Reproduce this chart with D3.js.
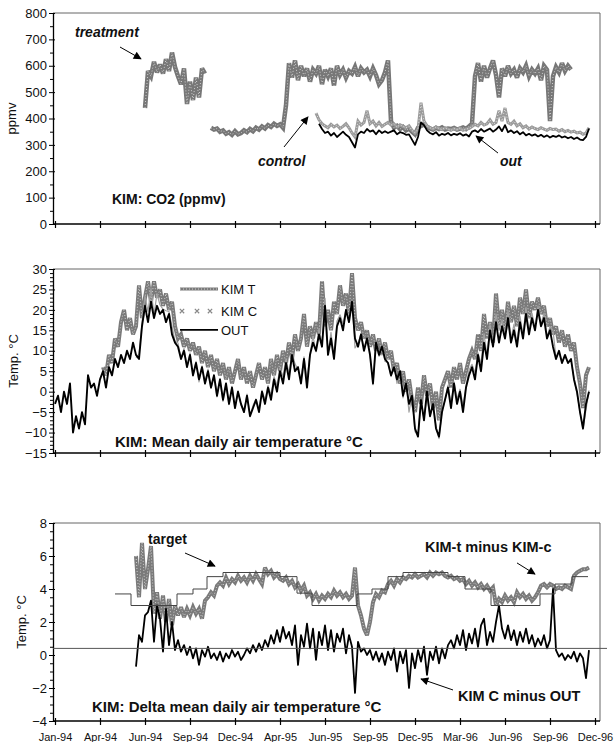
<!DOCTYPE html>
<html>
<head>
<meta charset="utf-8">
<script src="https://cdn.jsdelivr.net/npm/d3@7"></script>
<style>
  body { margin: 0; background: #fff; }
  svg { font-family: "Liberation Sans", Arial, sans-serif; }
</style>
</head>
<body>
<svg id="chart" width="615" height="742"></svg>
<script>
// ---- data (day index from start of axis, one value every 6 days) ----
const tickDays = [0, 90, 180, 270, 360, 450, 540, 630, 720, 810, 900, 990, 1080];
const tickLabels = ["Jan-94", "Apr-94", "Jun-94", "Sep-94", "Dec-94", "Apr-95", "Jun-95",
                    "Sep-95", "Dec-95", "Mar-96", "Jun-96", "Sep-96", "Dec-96"];
const STEP = 6;

// CO2 (ppmv)
const co2TreatStart = 180;
const co2Treat = [
  440,580,560,615,575,605,570,625,580,650,595,560,530,590,455,540,470,555,480,590,570,
  null,
  365,358,362,350,355,342,348,338,352,340,345,355,348,360,352,365,358,370,362,375,368,380,372,378,365,
  450,610,555,620,545,600,560,590,540,585,570,600,530,585,560,590,525,600,565,585,555,580,570,595,560,590,575,585,560,590,565,530,545,575,620,
  390,365,372,360,368,355,362,350,340,365,372,378,368,362,358,365,360,366,358,362,360,364,358,362,366,360,370,
  380,560,610,540,600,555,590,620,565,480,590,560,600,570,585,555,590,575,600,560,585,570,590,545,600,585,390,560,595,575,610,580,600,585
];
const co2ControlStart = 522;
const co2Control = [
  420,395,380,372,365,378,368,375,362,370,380,365,345,330,390,375,385,430,380,390,
  372,385,370,378,385,375,380,368,376,370,365,372,355,345,360,460,390,372,365,360,
  368,362,358,365,360,355,362,358,364,355,360,362,370,378,372,385,375,380,395,378,
  385,430,390,440,385,378,390,372,380,365,372,360,368,362,358,365,360,355,362,358,
  360,352,358,350,355,348,352,345,348,340,345,365
];
const co2OutStart = 528;
const co2Out = [
  380,360,345,350,335,345,330,340,350,338,330,310,290,340,350,345,360,350,355,340,
  355,345,352,345,350,355,340,348,345,338,340,320,300,330,385,375,355,345,340,348,
  335,342,338,345,336,342,338,344,335,340,332,350,355,348,360,350,356,362,350,358,
  370,352,375,348,355,345,352,340,348,336,342,335,340,332,338,330,336,328,334,330,
  336,328,332,325,330,322,328,320,318,330,362
];

// Mean daily air temperature (°C)
const tempOutStart = 0;
const tempOut = [
  -3,-1,-5,0,-3,2,-10,-6,-9,-5,-8,4,1,2,-1,3,5,1,6,4,8,6,9,7,10,8,12,9,8,16,
  21,17,22,18,21,19,20,17,19,14,12,11,8,10,6,9,4,7,3,6,2,5,1,4,-1,3,-2,2,-3,1,
  -4,0,-3,-5,-1,-6,-4,-2,-5,0,-3,1,-2,3,0,5,2,7,3,9,5,6,2,8,1,9,12,10,14,11,
  21,9,13,8,16,18,15,20,17,22,13,11,14,10,13,9,2,12,9,11,8,7,4,6,3,5,-1,2,-3,-1,
  -9,-11,-2,-7,0,-6,-3,-9,-11,-5,-2,1,-4,2,-3,0,-5,1,4,6,3,9,5,12,8,15,11,17,12,16,
  13,18,12,15,11,17,13,19,14,18,15,20,16,18,13,15,11,8,10,7,9,7,8,3,0,-5,-9,-3,0
];
const tempTStart = 96;
const tempT = [
  6,4,9,7,13,11,17,20,15,18,14,16,26,18,23,27,22,27,23,25,21,24,20,22,16,13,14,11,13,10,
  12,9,11,7,10,6,9,5,8,4,7,3,6,2,5,8,3,6,2,5,1,4,7,3,6,2,8,4,9,5,
  10,7,12,8,14,10,13,19,11,16,13,17,14,27,16,20,15,22,19,26,21,24,19,29,18,15,17,13,15,11,
  14,10,13,9,12,8,10,5,7,2,5,0,3,-2,-5,1,-3,4,-1,2,-4,0,-7,1,3,5,1,6,3,7,
  2,5,8,10,8,14,10,19,13,17,12,24,16,20,15,22,17,21,16,23,19,25,18,22,20,23,19,21,16,18,
  14,16,12,15,11,14,10,12,6,2,-4,4,6
];

// Delta mean daily air temperature (°C)
const deltaStart = 162;
const tMinusC = [
  6.0,3.5,6.8,4.0,5.2,6.6,2.5,3.8,2.2,3.6,2.0,3.4,1.8,3.0,2.4,2.9,2.3,2.8,2.4,2.9,
  2.5,2.8,2.2,3.3,3.5,3.8,3.6,4.2,4.4,4.2,4.7,4.3,4.6,4.4,4.8,4.5,4.7,4.4,4.8,4.5,
  4.9,4.6,4.3,5.3,4.9,5.1,4.7,4.9,4.6,4.5,4.7,4.3,4.5,4.1,4.3,3.9,4.2,3.6,3.8,3.4,
  3.7,3.3,3.6,3.4,3.7,3.5,3.9,3.6,3.8,3.5,3.7,3.4,3.6,5.3,3.0,2.4,1.6,1.2,2.0,3.2,
  3.7,3.5,3.9,3.8,4.3,4.5,4.2,4.6,4.4,4.7,4.6,4.8,4.7,4.9,4.7,4.8,4.9,4.7,5.0,4.8,
  5.0,4.9,5.0,4.8,4.7,4.8,4.6,4.7,4.5,4.6,4.3,4.5,4.2,4.4,4.1,4.3,4.0,4.2,3.9,4.1,
  3.0,3.4,3.2,3.6,3.3,3.5,3.2,3.8,3.5,3.7,3.4,3.6,3.3,3.5,3.8,4.2,4.3,4.1,4.3,4.2,
  4.0,4.1,4.0,4.2,4.1,4.0,4.8,5.0,5.1,5.2,5.2,5.3
];
const cMinusOut = [
  -0.7,1.2,0.8,2.4,2.6,3.3,0.8,3.0,2.2,0.2,2.8,0.6,2.0,0.3,0.9,0.2,0.6,0.0,0.5,-0.2,
  0.4,-0.6,0.3,-0.1,0.5,-0.2,0.1,-0.3,0.2,-0.4,0.1,-0.2,0.3,-0.1,0.2,-0.3,0.0,0.4,0.1,0.6,
  0.2,0.7,0.3,0.9,0.5,1.2,0.7,1.5,0.8,1.7,1.0,1.4,0.6,1.8,-0.6,1.2,0.5,1.9,0.4,1.6,
  -0.3,1.4,0.6,1.8,0.3,1.5,0.2,1.3,0.8,1.6,0.1,1.2,0.5,-2.3,0.8,0.2,0.4,0.0,0.3,-0.3,
  0.2,-0.4,0.1,-0.6,0.2,-0.3,0.4,-1.0,0.2,-0.5,0.3,-2.0,0.1,-0.8,0.3,-0.4,0.5,-1.2,0.2,-0.3,
  0.5,-0.5,0.4,-0.2,0.6,0.9,0.4,1.2,0.6,1.5,0.3,1.3,0.7,1.6,0.5,1.8,2.2,0.6,1.4,0.8,
  2.0,3.0,1.6,1.0,1.8,0.9,1.5,0.6,1.4,0.8,1.6,0.7,1.2,0.5,1.0,0.6,1.2,0.4,0.9,4.0,
  0.3,-0.1,0.1,-0.3,0.0,-0.2,0.2,-0.4,0.1,-0.2,-1.4,0.3
];
// target difference, step changes (day, value)
const targetDays = [120,152,244,276,304,336,450,484,514,604,634,666,696,786,820,872,970,1000,1034,1066];
const targetVals = [3.7,3.0,3.7,4.0,4.75,5.0,4.75,3.75,3.0,3.7,4.0,4.75,5.0,4.75,4.0,3.0,3.7,4.3,4.75,4.75];
const refLine = 0.4;

// ---- helpers ----
const svg = d3.select("#chart");
const x = d3.scaleLinear().domain([0, 1080]).range([55, 595]);
const frameLeft = 53, frameRight = 600;

function series(start, values) {
  return values.map((v, i) => ({ d: start + STEP * i, v: v }));
}

function drawPanel(p) {
  const g = svg.append("g");
  // top and right border
  g.append("path")
    .attr("d", `M${frameLeft},${p.top}H${frameRight}V${p.bottom}`)
    .attr("fill", "none").attr("stroke", "#666").attr("stroke-width", 1);

  // minor y ticks
  const minor = g.append("g").attr("transform", `translate(${frameLeft},0)`)
    .call(d3.axisLeft(p.y).tickValues(p.minor).tickSize(3).tickFormat(""));
  minor.select(".domain").remove();
  minor.selectAll(".tick line").attr("x1", 1);

  // major y ticks
  const major = g.append("g").attr("transform", `translate(${frameLeft},0)`)
    .call(d3.axisLeft(p.y).tickValues(p.major).tickSize(4).tickSizeOuter(0).tickPadding(p.pad));
  major.select(".domain").attr("stroke-width", 1.3);
  major.selectAll(".tick line").attr("x1", 2);
  major.selectAll("text").attr("font-size", p.fs).attr("fill", "#111");

  // bottom axis
  const bottom = g.append("g").attr("transform", `translate(0,${p.bottom})`)
    .call(d3.axisBottom(x).tickValues(tickDays).tickSize(4)
      .tickFormat(p.labels ? (d, i) => tickLabels[i] : ""));
  bottom.select(".domain").remove();
  bottom.selectAll(".tick line").attr("y1", -3).attr("stroke-width", 1.2);
  bottom.selectAll("text").attr("font-size", 11).attr("dy", "1.2em").attr("fill", "#111");
  g.append("line").attr("x1", frameLeft).attr("x2", frameRight)
    .attr("y1", p.bottom).attr("y2", p.bottom)
    .attr("stroke", "#000").attr("stroke-width", 1.5);

  // y title
  g.append("text")
    .attr("transform", `translate(${p.titleX},${(p.top + p.bottom) / 2}) rotate(-90)`)
    .attr("text-anchor", "middle").attr("font-size", 13).attr("fill", "#111")
    .text(p.title);
  return g;
}

function linePath(y) {
  return d3.line().defined(d => d.v != null).x(d => x(d.d)).y(d => y(d.v));
}

function hatched(g, data, y, w, dark, light) {
  g.append("path").datum(data).attr("d", linePath(y))
    .attr("fill", "none").attr("stroke", dark).attr("stroke-width", w)
    .attr("stroke-linejoin", "miter").attr("stroke-miterlimit", 3);
  g.append("path").datum(data).attr("d", linePath(y))
    .attr("fill", "none").attr("stroke", light).attr("stroke-width", 1)
    .attr("stroke-dasharray", "1 2");
}

function plain(g, data, y, w, color, dash) {
  g.append("path").datum(data).attr("d", linePath(y))
    .attr("fill", "none").attr("stroke", color).attr("stroke-width", w)
    .attr("stroke-linejoin", "round").attr("stroke-dasharray", dash || null);
}

svg.append("defs").append("marker")
  .attr("id", "head").attr("viewBox", "0 0 10 10").attr("refX", 9).attr("refY", 5)
  .attr("markerWidth", 11).attr("markerHeight", 8).attr("markerUnits", "userSpaceOnUse")
  .attr("orient", "auto")
  .append("path").attr("d", "M0,0L10,5L0,10Z").attr("fill", "#000");

function arrow(g, y, d1, v1, d2, v2) {
  g.append("line")
    .attr("x1", x(d1)).attr("y1", y(v1)).attr("x2", x(d2)).attr("y2", y(v2))
    .attr("stroke", "#000").attr("stroke-width", 1).attr("marker-end", "url(#head)");
}

function label(g, y, d, v, txt, fs, italic) {
  g.append("text").attr("x", x(d)).attr("y", y(v))
    .attr("font-size", fs).attr("font-weight", "bold")
    .attr("font-style", italic ? "italic" : null).attr("fill", "#111")
    .text(txt);
}

// ---- panel 1: CO2 ----
const y1 = d3.scaleLinear().domain([0, 800]).range([224, 13]);
const g1 = drawPanel({
  top: 13, bottom: 224, y: y1, major: d3.range(0, 801, 100), minor: d3.range(50, 800, 100),
  pad: 2, fs: 13, title: "ppmv", titleX: 16, labels: false
});
hatched(g1, series(co2TreatStart, co2Treat), y1, 4.5, "#777", "#d0d0d0");
hatched(g1, series(co2ControlStart, co2Control), y1, 3, "#9a9a9a", "#e2e2e2");
plain(g1, series(co2OutStart, co2Out), y1, 1.8, "#000");
label(g1, y1, 40, 708, "treatment", 14, true);
arrow(g1, y1, 130, 671, 172, 626);
label(g1, y1, 406, 220, "control", 14, true);
arrow(g1, y1, 458, 292, 506, 406);
label(g1, y1, 890, 220, "out", 14, true);
arrow(g1, y1, 886, 269, 842, 334);
label(g1, y1, 114, 76, "KIM: CO2 (ppmv)", 14, false);

// ---- panel 2: temperature ----
const y2 = d3.scaleLinear().domain([-15, 30]).range([453, 269]);
const g2 = drawPanel({
  top: 269, bottom: 453, y: y2, major: d3.range(-15, 31, 5),
  minor: d3.range(-15, 31, 1).filter(v => v % 5 !== 0),
  pad: 2, fs: 13, title: "Temp. °C", titleX: 18, labels: false
});
const tOut = series(tempOutStart, tempOut);
// KIM C read as OUT plus the "KIM C minus OUT" difference of the lower panel
const kimC = series(deltaStart, cMinusOut).map(p => {
  const o = tOut[Math.round((p.d - tempOutStart) / STEP)];
  return { d: p.d, v: o ? o.v + p.v : null };
});
hatched(g2, series(tempTStart, tempT), y2, 4, "#7a7a7a", "#d0d0d0");
plain(g2, kimC, y2, 1.2, "#a0a0a0");
plain(g2, tOut, y2, 1.9, "#000");

// legend
const lg = g2.append("g");
const legendRows = [
  { name: "KIM T", v: 25.1 },
  { name: "KIM C", v: 19.7 },
  { name: "OUT", v: 15.1 }
];
legendRows.forEach((r, i) => {
  const yy = y2(r.v);
  if (i === 0) {
    lg.append("line").attr("x1", x(250)).attr("x2", x(326)).attr("y1", yy).attr("y2", yy)
      .attr("stroke", "#7a7a7a").attr("stroke-width", 3);
    lg.append("line").attr("x1", x(250)).attr("x2", x(326)).attr("y1", yy).attr("y2", yy)
      .attr("stroke", "#d0d0d0").attr("stroke-width", 1).attr("stroke-dasharray", "1 2");
  } else if (i === 1) {
    [254, 284, 310].forEach(d => {
      lg.append("path").attr("d", d3.symbol(d3.symbolX, 14)())
        .attr("transform", `translate(${x(d)},${yy})`)
        .attr("stroke", "#888").attr("stroke-width", 1.2).attr("fill", "none");
    });
  } else {
    lg.append("line").attr("x1", x(250)).attr("x2", x(326)).attr("y1", yy).attr("y2", yy)
      .attr("stroke", "#000").attr("stroke-width", 1.6);
  }
  lg.append("text").attr("x", x(332)).attr("y", yy).attr("dy", "0.36em")
    .attr("font-size", 13).attr("fill", "#111").text(r.name);
});
label(g2, y2, 120, -13.5, "KIM: Mean daily air temperature °C", 15, false);

// ---- panel 3: delta temperature ----
const y3 = d3.scaleLinear().domain([-4, 8]).range([721, 523]);
const g3 = drawPanel({
  top: 523, bottom: 721, y: y3, major: d3.range(-4, 9, 2),
  minor: d3.range(-4, 8.01, 0.5).filter(v => v % 2 !== 0),
  pad: 2, fs: 13, title: "Temp. °C", titleX: 26, labels: true
});
hatched(g3, series(deltaStart, tMinusC), y3, 4, "#7a7a7a", "#d0d0d0");
plain(g3, series(deltaStart, cMinusOut), y3, 1.8, "#000");
g3.append("path")
  .datum(targetDays.map((d, i) => ({ d: d, v: targetVals[i] })))
  .attr("d", d3.line().curve(d3.curveStepAfter).x(d => x(d.d)).y(d => y3(d.v)))
  .attr("fill", "none").attr("stroke", "#444").attr("stroke-width", 1);
g3.append("line").attr("x1", frameLeft).attr("x2", 607)
  .attr("y1", y3(refLine)).attr("y2", y3(refLine))
  .attr("stroke", "#555").attr("stroke-width", 1);
label(g3, y3, 186, 6.73, "target", 14, false);
arrow(g3, y3, 260, 6.18, 320, 5.39);
label(g3, y3, 740, 6.24, "KIM-t minus KIM-c", 14.5, false);
arrow(g3, y3, 924, 5.58, 960, 4.9);
label(g3, y3, 806, -2.79, "KIM C minus OUT", 14.5, false);
arrow(g3, y3, 796, -2.12, 732, -1.45);
label(g3, y3, 74, -3.45, "KIM: Delta mean daily air temperature °C", 15, false);
</script>
</body>
</html>
